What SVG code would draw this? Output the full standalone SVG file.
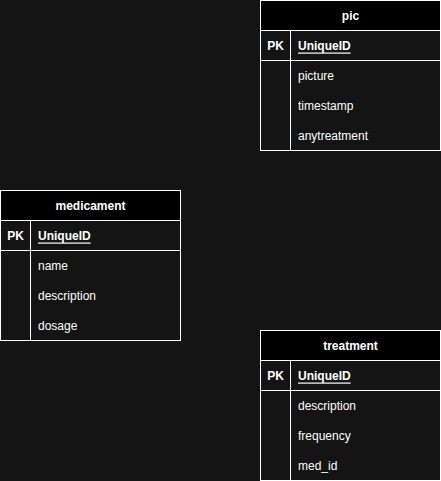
<svg xmlns="http://www.w3.org/2000/svg" width="441" height="481" viewBox="0 0 441 481">
<style>
.bg{fill:#141414}
.hd{fill:#000000;stroke:#ffffff;stroke-width:1}
.bd{fill:#141414;stroke:#ffffff;stroke-width:1}
.ln{stroke:#ffffff;stroke-width:1;fill:none}
text{font-family:"Liberation Sans",Arial,sans-serif;font-size:12px;fill:#ffffff;dominant-baseline:central}
.t{font-weight:bold;text-anchor:middle}
.pk{font-weight:bold;text-anchor:middle}
.id{font-weight:bold;text-decoration:underline}
</style>
<rect class="bg" x="0" y="0" width="441" height="481"/>
<g id="pic">
<rect class="bd" x="260.5" y="0.5" width="180" height="150"/>
<rect class="hd" x="260.5" y="0.5" width="180" height="30"/>
<line class="ln" x1="260.5" y1="60.5" x2="440.5" y2="60.5"/>
<line class="ln" x1="290.5" y1="30.5" x2="290.5" y2="150.5"/>
<text class="t" x="350.5" y="15.5">pic</text>
<text class="pk" x="275.5" y="45.5">PK</text>
<text class="id" x="298" y="45.5">UniqueID</text>
<text x="298" y="75.5">picture</text>
<text x="298" y="105.5">timestamp</text>
<text x="298" y="135.5">anytreatment</text>
</g>
<g id="medicament">
<rect class="bd" x="0.5" y="190.5" width="180" height="150"/>
<rect class="hd" x="0.5" y="190.5" width="180" height="30"/>
<line class="ln" x1="0.5" y1="250.5" x2="180.5" y2="250.5"/>
<line class="ln" x1="30.5" y1="220.5" x2="30.5" y2="340.5"/>
<text class="t" x="90.5" y="205.5">medicament</text>
<text class="pk" x="15.5" y="235.5">PK</text>
<text class="id" x="38" y="235.5">UniqueID</text>
<text x="38" y="265.5">name</text>
<text x="38" y="295.5">description</text>
<text x="38" y="325.5">dosage</text>
</g>
<g id="treatment">
<rect class="bd" x="260.5" y="330.5" width="180" height="150"/>
<rect class="hd" x="260.5" y="330.5" width="180" height="30"/>
<line class="ln" x1="260.5" y1="390.5" x2="440.5" y2="390.5"/>
<line class="ln" x1="290.5" y1="360.5" x2="290.5" y2="480.5"/>
<text class="t" x="350.5" y="345.5">treatment</text>
<text class="pk" x="275.5" y="375.5">PK</text>
<text class="id" x="298" y="375.5">UniqueID</text>
<text x="298" y="405.5">description</text>
<text x="298" y="435.5">frequency</text>
<text x="298" y="465.5">med_id</text>
</g>
<g id="connectors"/>
</svg>
